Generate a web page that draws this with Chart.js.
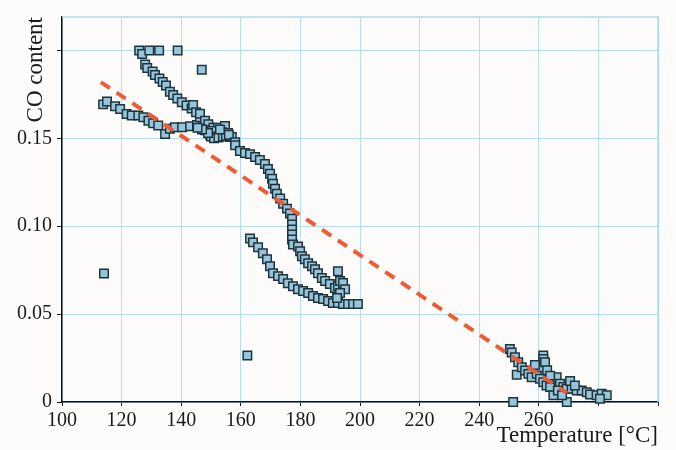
<!DOCTYPE html>
<html>
<head>
<meta charset="utf-8">
<script src="https://cdn.jsdelivr.net/npm/chart.js@4"></script>
<style>
  html, body { margin: 0; padding: 0; background: #fefcfb; }
  #wrap { width: 676px; height: 450px; }
</style>
</head>
<body>
<div id="wrap"><canvas id="coChart" width="676" height="450"></canvas></div>
<script>
const upperBranch = [
  [125.9, 0.200], [126.9, 0.198], [129.3, 0.200], [132.6, 0.200], [138.8, 0.200], [146.9, 0.189],
  [127.9, 0.192], [128.6, 0.190], [130.4, 0.188], [131.2, 0.186], [132.7, 0.184], [133.8, 0.182],
  [134.9, 0.180], [136.2, 0.1765], [137.3, 0.1746], [138.7, 0.1727], [140.2, 0.1705], [141.8, 0.1686],
  [143.5, 0.167], [144.0, 0.169], [145.0, 0.1648], [146.3, 0.162], [146.3, 0.164], [148.0, 0.160],
  [149.1, 0.158], [150.8, 0.156], [152.3, 0.156], [154.7, 0.157], [153.7, 0.1535], [151.3, 0.152],
  [149.7, 0.152], [148.0, 0.1546], [150.3, 0.1541], [155.7, 0.153], [156.4, 0.1507], [157.0, 0.1507],
  [150.0, 0.151], [151.0, 0.150], [152.5, 0.1505], [154.0, 0.151], [155.0, 0.1515], [149.0, 0.153],
  [147.0, 0.155], [145.5, 0.156], [156.0, 0.152], [153.0, 0.155],
  [158.1, 0.1478], [158.1, 0.146], [159.7, 0.1428], [161.4, 0.1416], [163.1, 0.141], [164.8, 0.1394],
  [166.4, 0.1377], [168.1, 0.1354], [169.1, 0.1326], [169.8, 0.1298], [170.5, 0.127], [170.8, 0.1241],
  [171.5, 0.1213], [172.1, 0.1185], [173.2, 0.1157], [174.2, 0.1128], [175.5, 0.110], [176.5, 0.1072],
  [177.2, 0.1043], [177.2, 0.101], [177.2, 0.0981], [177.2, 0.0953], [177.2, 0.0925], [177.5, 0.0896],
  [179.2, 0.0885], [179.9, 0.0857], [180.5, 0.0829], [181.5, 0.0812], [182.6, 0.0789], [183.9, 0.0772],
  [184.9, 0.0755], [185.9, 0.0733], [187.2, 0.0705], [188.3, 0.0688], [189.9, 0.0671], [191.6, 0.0648],
  [192.6, 0.0659], [193.3, 0.0688], [192.6, 0.0744], [194.3, 0.0677], [195.0, 0.0642], [193.3, 0.062],
  [192.3, 0.0592]
];
const lowerBranch = [
  [113.8, 0.1693], [115.1, 0.171], [117.8, 0.1682], [119.5, 0.1667], [121.7, 0.1638], [123.4, 0.163],
  [125.6, 0.163], [127.3, 0.162], [129.0, 0.160], [130.6, 0.1586], [132.3, 0.1573], [134.6, 0.1525],
  [136.2, 0.1554], [137.9, 0.1563], [140.3, 0.1563], [143.0, 0.1569], [145.3, 0.1575], [147.3, 0.158]
];
const lowerArc = [
  [163.1, 0.0930], [164.1, 0.0908], [165.8, 0.088], [167.4, 0.0846], [168.8, 0.0812], [169.8, 0.0772],
  [170.8, 0.0733], [172.5, 0.0716], [174.2, 0.0699], [175.8, 0.0676], [177.5, 0.0659], [179.2, 0.0642],
  [180.9, 0.0631], [182.6, 0.062], [184.2, 0.0603], [185.9, 0.0592], [187.6, 0.0586], [189.3, 0.0575],
  [190.9, 0.0563], [192.6, 0.0563], [194.3, 0.0558], [196.0, 0.0558], [197.7, 0.0558], [199.3, 0.0558]
];
const highTemp = [
  [250.3, 0.0302], [250.9, 0.0282], [252.0, 0.0254], [253.1, 0.0226], [252.6, 0.0155], [254.3, 0.0198],
  [255.4, 0.0179], [256.5, 0.016], [257.6, 0.0141], [259.3, 0.016], [260.4, 0.0198], [261.5, 0.0264],
  [261.5, 0.0245], [262.1, 0.0226], [260.4, 0.0132], [261.5, 0.0113], [262.6, 0.0094], [263.8, 0.0085],
  [264.9, 0.0132], [266.0, 0.0141], [267.1, 0.0104], [268.2, 0.0085], [269.4, 0.0076], [271.0, 0.0076],
  [272.7, 0.0066], [274.4, 0.0066], [276.1, 0.0056], [277.2, 0.0042], [279.4, 0.0038], [281.1, 0.0047],
  [282.8, 0.0038], [280.5, 0.0019], [264.9, 0.0038], [269.4, 0.0], [251.4, 0.0], [262.8, 0.018],
  [258.7, 0.021], [263.8, 0.015], [270.5, 0.012], [272.1, 0.0094], [266.4, 0.0066], [267.8, 0.0038]
];
const outliers = [[114.1, 0.0731], [162.2, 0.0264]];

// dashed linear fit
const fitT = [113, 269.5];
const fitCO = [0.182, 0.005];

const xTickLabels = [100, 120, 140, 160, 180, 200, 220, 240, 260];
const yTickLabels = ['0', '0.05', '0.10', '0.15'];

const toXY = arr => arr.map(p => ({ x: p[0], y: p[1] }));

const pointStyle = {
  type: 'scatter',
  pointStyle: 'rect',
  pointRadius: 6,
  pointHoverRadius: 6,
  backgroundColor: '#97c6dc',
  borderColor: '#1e343c',
  pointBorderWidth: 1.5,
  clip: false
};

// blue frame on top and right of the plot
const framePlugin = {
  id: 'frame',
  beforeDatasetsDraw(chart) {
    const { ctx, chartArea: a } = chart;
    ctx.save();
    ctx.strokeStyle = '#a9daf2';
    ctx.lineWidth = 1.5;
    ctx.beginPath();
    ctx.moveTo(a.left, a.top);
    ctx.lineTo(a.right, a.top);
    ctx.lineTo(a.right, a.bottom);
    ctx.stroke();
    ctx.restore();
  }
};

const serif = 'Liberation Serif, Times New Roman, serif';

const coChart = new Chart(document.getElementById('coChart').getContext('2d'), {
  type: 'scatter',
  data: {
    datasets: [
      {
        type: 'scatter',
        showLine: true,
        data: fitT.map((t, i) => ({ x: t, y: fitCO[i] })),
        borderColor: '#ef5b37',
        borderWidth: 4,
        borderDash: [11, 8],
        pointRadius: 0,
        fill: false
      },
      Object.assign({ data: toXY(upperBranch) }, pointStyle),
      Object.assign({ data: toXY(lowerBranch) }, pointStyle),
      Object.assign({ data: toXY(lowerArc) }, pointStyle),
      Object.assign({ data: toXY(highTemp) }, pointStyle),
      Object.assign({ data: toXY(outliers) }, pointStyle)
    ]
  },
  options: {
    responsive: false,
    animation: false,
    layout: { padding: { top: 14, right: 18, bottom: 0, left: 0 } },
    plugins: { legend: { display: false }, tooltip: { enabled: false } },
    scales: {
      x: {
        type: 'linear',
        min: 100,
        max: 300,
        afterFit: s => { s.height = 48; },
        ticks: {
          stepSize: 20,
          padding: 3,
          color: '#1a1a1a',
          font: { family: serif, size: 20 },
          callback: v => xTickLabels.includes(v) ? String(v) : ''
        },
        grid: { color: '#b3def3', lineWidth: 1, tickColor: '#1a1a1a', tickLength: 4 },
        border: { color: '#111', width: 1.5 },
        title: {
          display: true,
          text: 'Temperature [°C]',
          align: 'end',
          color: '#1a1a1a',
          font: { family: serif, size: 23 },
          padding: { top: 0, bottom: 0 }
        }
      },
      y: {
        min: 0,
        max: 0.219,
        afterFit: s => { s.width = 62; },
        ticks: {
          stepSize: 0.05,
          includeBounds: false,
          padding: 5,
          color: '#1a1a1a',
          font: { family: serif, size: 20 },
          callback: v => {
            const i = Math.round(v / 0.05);
            return i < yTickLabels.length ? yTickLabels[i] : '';
          }
        },
        grid: { color: '#b3def3', lineWidth: 1, tickColor: '#1a1a1a', tickLength: 5 },
        border: { color: '#111', width: 1.5 },
        title: {
          display: true,
          text: 'CO content',
          align: 'end',
          color: '#1a1a1a',
          font: { family: serif, size: 23 },
          padding: { top: 22, bottom: 0 }
        }
      }
    }
  },
  plugins: [framePlugin]
});
</script>
</body>
</html>
